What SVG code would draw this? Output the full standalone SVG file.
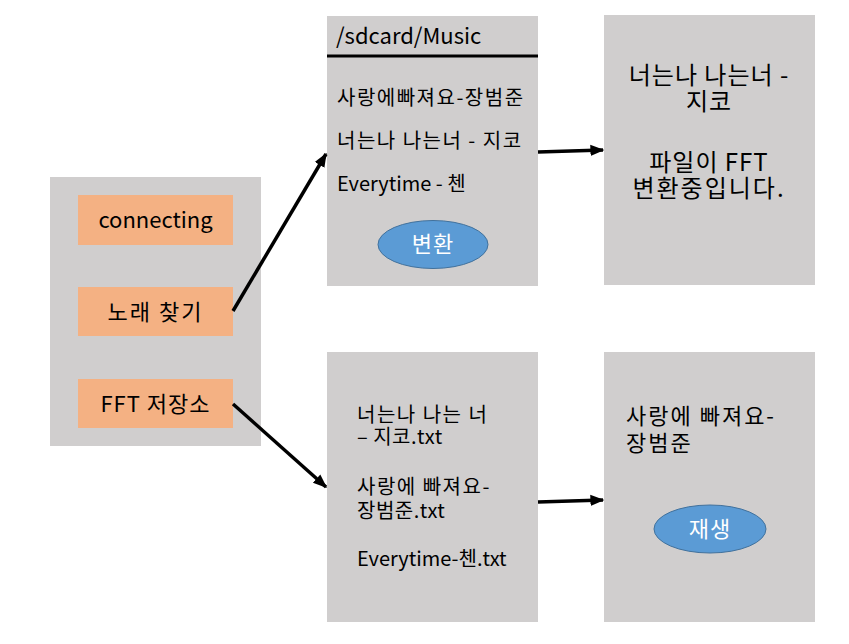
<svg xmlns="http://www.w3.org/2000/svg" width="849" height="644" viewBox="0 0 849 644">
<defs>
<style>
.panel{fill:#d0cece;}
.btn{fill:#f4b183;}
.oval{fill:#5b9bd5;stroke:#41719c;stroke-width:1;}
text{font-family:"Noto Sans CJK KR","Noto Sans",sans-serif;fill:#000;}
.t20{font-size:20px;}
.t22{font-size:22px;}
.t24{font-size:24px;}
.w{fill:#fff;font-size:22px;letter-spacing:1px;}
.conn{stroke:#000;stroke-width:3.5;fill:none;marker-end:url(#ah);}
</style>
<marker id="ah" viewBox="0 0 10 10" refX="9" refY="5" markerWidth="4" markerHeight="4" orient="auto" markerUnits="strokeWidth">
<path d="M0,1 L10,5 L0,9 z" fill="#000"/>
</marker>
</defs>
<rect width="849" height="644" fill="#fff"/>

<g id="menu">
<rect class="panel" x="50" y="177" width="211" height="269"/>
<g id="btn-connecting"><rect class="btn" x="78" y="195" width="155" height="50"/><text class="t22" x="155.5" y="228" text-anchor="middle">connecting</text></g>
<g id="btn-search"><rect class="btn" x="78" y="287" width="155" height="49"/><text class="t22" x="155.5" y="320" text-anchor="middle" letter-spacing="2">노래 찾기</text></g>
<g id="btn-fft"><rect class="btn" x="78" y="379" width="155" height="49"/><text class="t22" x="155.5" y="412" text-anchor="middle" letter-spacing="1">FFT 저장소</text></g>
</g>

<g id="music-list">
<rect class="panel" x="327" y="16" width="211" height="270"/>
<text class="t22" x="336" y="44">/sdcard/Music</text>
<line x1="327" y1="56" x2="538" y2="56" stroke="#000" stroke-width="3"/>
<text class="t20" x="337" y="105" letter-spacing="1.5">사랑에빠져요-장범준</text>
<text class="t20" x="337" y="148" letter-spacing="1.5">너는나 나는너 - 지코</text>
<text class="t20" x="337" y="191">Everytime - 첸</text>
<ellipse class="oval" cx="433" cy="244.5" rx="55" ry="24"/>
<text class="w" x="433" y="252" text-anchor="middle">변환</text>
</g>

<g id="converting">
<rect class="panel" x="604" y="15" width="211" height="270"/>
<text class="t24" x="709" y="84" text-anchor="middle" letter-spacing="1">너는나 나는너 -</text>
<text class="t24" x="709" y="110" text-anchor="middle" letter-spacing="1">지코</text>
<text class="t24" x="709" y="171" text-anchor="middle" letter-spacing="1">파일이 FFT</text>
<text class="t24" x="709" y="197" text-anchor="middle" letter-spacing="2">변환중입니다.</text>
</g>

<g id="fft-list">
<rect class="panel" x="327" y="352" width="211" height="270"/>
<text class="t20" x="357" y="422" letter-spacing="1.5">너는나 나는 너</text>
<text class="t20" x="357" y="444" letter-spacing="0.5">– 지코.txt</text>
<text class="t20" x="357" y="494" letter-spacing="1.5">사랑에 빠져요-</text>
<text class="t20" x="357" y="518" letter-spacing="0.5">장범준.txt</text>
<text class="t20" x="357" y="566">Everytime-첸.txt</text>
</g>

<g id="player">
<rect class="panel" x="604" y="352" width="211" height="270"/>
<text class="t22" x="626" y="424" letter-spacing="2">사랑에 빠져요-</text>
<text class="t22" x="626" y="451" letter-spacing="2">장범준</text>
<ellipse class="oval" cx="710" cy="529" rx="56" ry="24"/>
<text class="w" x="710" y="537" text-anchor="middle">재생</text>
</g>

<g id="connectors">
<line class="conn" x1="233" y1="311" x2="326" y2="154"/>
<line class="conn" x1="233" y1="404" x2="326" y2="487"/>
<line class="conn" x1="538" y1="152" x2="603" y2="150"/>
<line class="conn" x1="538" y1="502" x2="603" y2="500"/>
</g>
</svg>
